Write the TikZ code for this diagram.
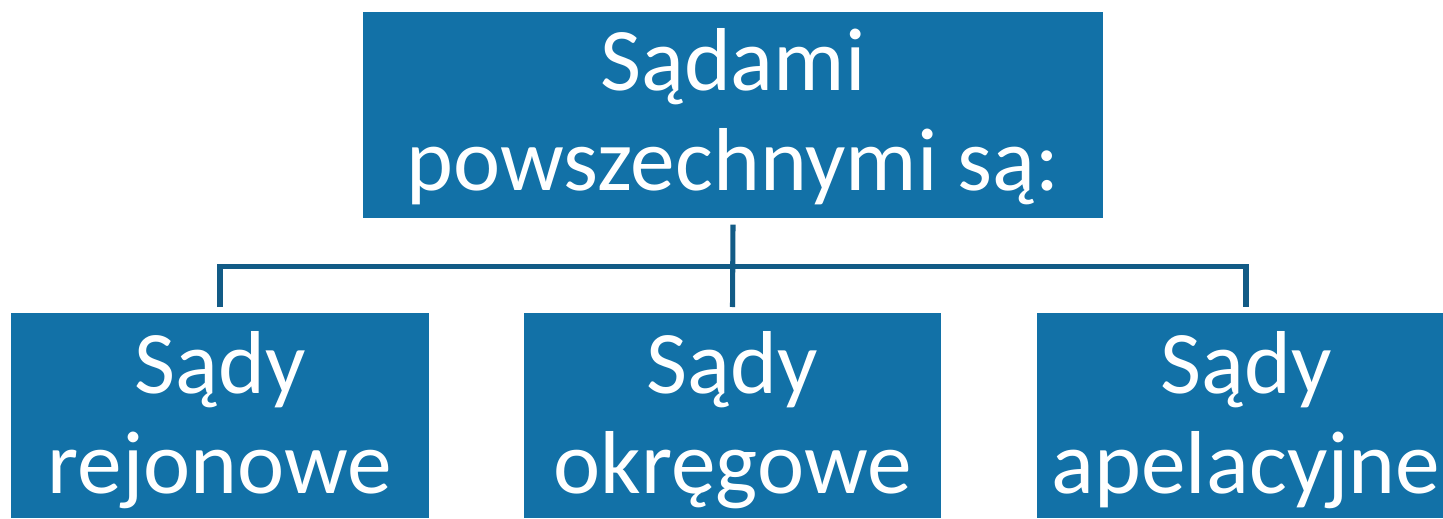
\documentclass[tikz,border=0pt]{standalone}
\usepackage{fontspec}
\setmainfont{Carlito}
\usetikzlibrary{calc}
\definecolor{boxblue}{HTML}{1271A7}
\definecolor{linkblue}{HTML}{125B86}
\tikzset{
  box/.style={fill=boxblue, draw=none, inner sep=0pt, anchor=north,
    text=white, align=center, font=\fontsize{67pt}{75pt}\selectfont,
    text height=133.5pt, text depth=21pt},
  lowbox/.style={box, text height=135pt, text depth=18.75pt},
  link/.style={draw=linkblue, line width=3.8pt},
}
\begin{document}
\begin{tikzpicture}[x=0.75pt,y=-0.75pt]
\useasboundingbox (0,0) rectangle (1443,518);
\node[box, minimum width=555pt] (top) at (733,12) {Sądami\\powszechnymi są:};
\node[lowbox, minimum width=313.5pt] (l) at (220,313) {Sądy\\rejonowe};
\node[lowbox, minimum width=312.75pt] (m) at (732.5,313) {Sądy\\okręgowe};
\node[lowbox, minimum width=313.5pt] (r) at (1246,313) {Sądy\\apelacyjne};
\draw[link] ($(top.south)+(0,6)$) -- ($(m.north)+(0,-6)$);
\draw[link] ($(l.north)+(0,-6)$) |- ($(top.south)+(0,48)$) -| ($(r.north)+(0,-6)$);
\end{tikzpicture}
\end{document}
